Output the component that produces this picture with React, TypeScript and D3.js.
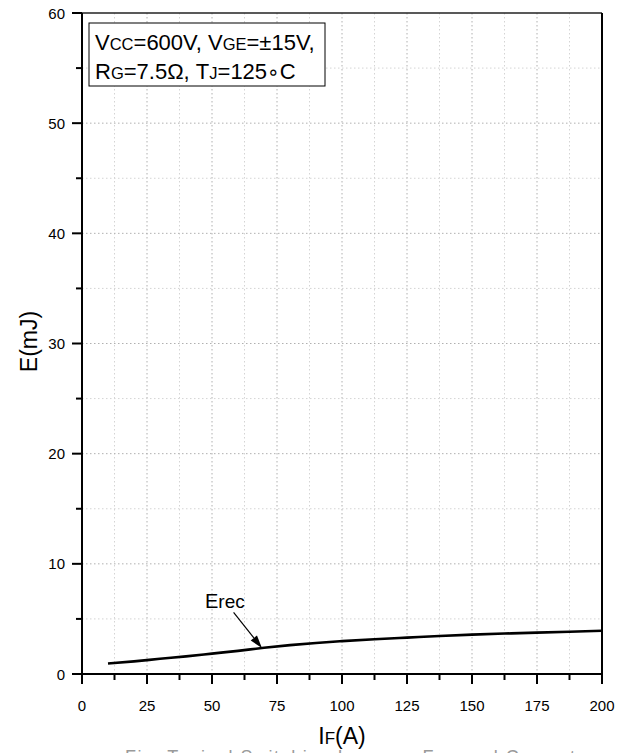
import React from "react";
import * as d3 from "d3";

const curveX = [10, 20, 30, 40, 50, 60, 70, 80, 90, 100, 112.5, 125, 137.5, 150, 162.5, 175, 187.5, 200];
const curveY = [0.95, 1.15, 1.38, 1.6, 1.85, 2.1, 2.38, 2.62, 2.82, 2.98, 3.15, 3.3, 3.45, 3.57, 3.67, 3.76, 3.84, 3.92];
const xTicks = [0, 25, 50, 75, 100, 125, 150, 175, 200];
const yTicks = [0, 10, 20, 30, 40, 50, 60];
const seriesLabel = "E";
const seriesLabelSub = "rec";
const arrowFrom = [58.3, 5.6];
const arrowTo = [69.2, 2.35];
const labelPos = [47.3, 6.0];

const W = 630, H = 753;
const M = { left: 82, right: 602, top: 13, bottom: 674 };

export default function App() {
  const x = d3.scaleLinear().domain([0, 200]).range([M.left, M.right]);
  const y = d3.scaleLinear().domain([0, 60]).range([M.bottom, M.top]);
  const line = d3
    .line<number>()
    .x((_, i) => x(curveX[i]))
    .y((d) => y(d))
    .curve(d3.curveMonotoneX);

  const xGrid = d3.range(12.5, 200, 12.5);
  const yGrid = d3.range(5, 60, 5);
  const xMinor = d3.range(12.5, 200, 25);
  const yMinor = d3.range(5, 60, 10);
  const font = "Arial, 'Liberation Sans', sans-serif";

  const ax1 = x(arrowFrom[0]), ay1 = y(arrowFrom[1]);
  const ax2 = x(arrowTo[0]), ay2 = y(arrowTo[1]);
  const ang = Math.atan2(ay2 - ay1, ax2 - ax1);
  const hl = 13, hw = 4;
  const bx = ax2 - hl * Math.cos(ang), by = ay2 - hl * Math.sin(ang);
  const px = -Math.sin(ang) * hw, py = Math.cos(ang) * hw;

  return (
    <svg width={W} height={H} style={{ position: "absolute", left: 0, top: 0, background: "#fff" }} fontFamily={font}>
      <rect width={W} height={H} fill="#fff" />
      {xGrid.map((v) => (
        <line key={"gx" + v} x1={x(v)} x2={x(v)} y1={M.top} y2={M.bottom}
          stroke={v % 25 === 0 ? "#b0b0b0" : "#d4d4d4"} strokeWidth={1} strokeDasharray="1.5,2.5" />
      ))}
      {yGrid.map((v) => (
        <line key={"gy" + v} y1={y(v)} y2={y(v)} x1={M.left} x2={M.right}
          stroke={v % 10 === 0 ? "#b0b0b0" : "#d4d4d4"} strokeWidth={1} strokeDasharray="1.5,2.5" />
      ))}
      <line x1={M.left} x2={M.right} y1={M.top} y2={M.top} stroke="#222" strokeWidth={1.5} />
      <line x1={M.right} x2={M.right} y1={M.top} y2={M.bottom} stroke="#000" strokeWidth={2} />
      <line x1={M.left} x2={M.left} y1={M.top} y2={M.bottom + 1} stroke="#000" strokeWidth={2} />
      <line x1={M.left - 1} x2={M.right + 1} y1={M.bottom} y2={M.bottom} stroke="#000" strokeWidth={2} />
      {xTicks.map((v) => (
        <g key={"xt" + v}>
          <line x1={x(v)} x2={x(v)} y1={M.bottom} y2={M.bottom + 10} stroke="#000" strokeWidth={2} />
          <text x={x(v)} y={M.bottom + 37} fontSize={15} textAnchor="middle">{v}</text>
        </g>
      ))}
      {xMinor.map((v) => (
        <line key={"xm" + v} x1={x(v)} x2={x(v)} y1={M.bottom} y2={M.bottom + 6} stroke="#000" strokeWidth={2} />
      ))}
      {yTicks.map((v) => (
        <g key={"yt" + v}>
          <line x1={M.left} x2={M.left - 10} y1={y(v)} y2={y(v)} stroke="#000" strokeWidth={2} />
          <text x={M.left - 17} y={y(v) + 5.5} fontSize={15} textAnchor="end">{v}</text>
        </g>
      ))}
      {yMinor.map((v) => (
        <line key={"ym" + v} x1={M.left} x2={M.left - 6} y1={y(v)} y2={y(v)} stroke="#000" strokeWidth={2} />
      ))}
      <text x={(M.left + M.right) / 2} y={744} fontSize={23} textAnchor="middle">
        I<tspan fontSize={17}>F</tspan>(A)
      </text>
      <text transform={`translate(37, ${(M.top + M.bottom) / 2 - 2}) rotate(-90)`} fontSize={23} textAnchor="middle">
        E(mJ)
      </text>
      <path d={line(curveY) || ""} fill="none" stroke="#000" strokeWidth={2.6} />
      <text x={x(labelPos[0])} y={y(labelPos[1])} fontSize={20}>
        {seriesLabel}<tspan fontSize={19}>{seriesLabelSub}</tspan>
      </text>
      <line x1={ax1} y1={ay1} x2={bx} y2={by} stroke="#000" strokeWidth={1.2} />
      <polygon points={`${ax2},${ay2} ${bx + px},${by + py} ${bx - px},${by - py}`} fill="#000" />
      <rect x={89} y={23} width={236} height={63} fill="#fff" stroke="#000" strokeWidth={1} />
      <text x={95} y={50} fontSize={22}>
        V<tspan fontSize={16.5}>CC</tspan>=600V, V<tspan fontSize={16.5}>GE</tspan>=±15V,
      </text>
      <text x={95} y={79} fontSize={22}>
        R<tspan fontSize={16.5}>G</tspan>=7.5Ω, T<tspan fontSize={16.5}>J</tspan>=125<tspan fontFamily="'DejaVu Sans'" fontSize={20}>∘</tspan>C
      </text>
      <text x={350} y={763} fontSize={18} fill="#9a9a9a" textAnchor="middle" textLength={450} lengthAdjust="spacing">
        Fig. Typical Switching Loss vs. Forward Current
      </text>
    </svg>
  );
}
